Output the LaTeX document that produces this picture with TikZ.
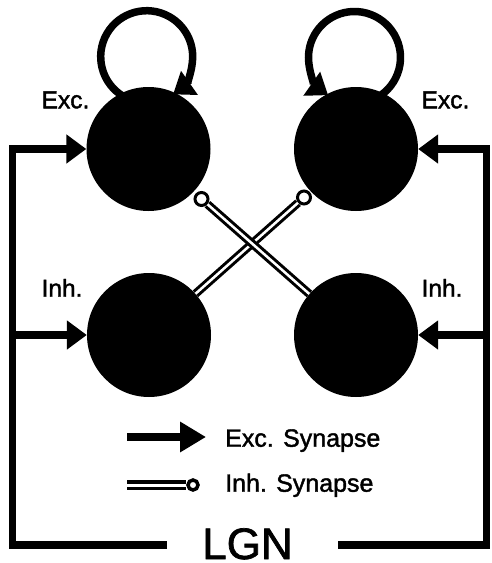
\documentclass[tikz,border=0pt]{standalone}
\usepackage{fontspec}
\setmainfont{Liberation Sans}
\newfontfamily\heavy{Liberation Sans}[FakeBold=1.6]
\usetikzlibrary{arrows.meta}
\begin{document}
\begin{tikzpicture}[x=1pt,y=-1pt,
  cell/.style={circle,fill=black,inner sep=0pt,minimum size=124pt},
  wire/.style={line width=7.5pt,line join=miter,line cap=butt},
  exc/.style={-{Triangle[length=20pt,width=28pt]}},
  inh/.style={line width=3pt,double=white,double distance=2.5pt},
  term/.style={circle,draw=black,fill=white,line width=3pt,inner sep=0pt,minimum size=13pt},
  lab/.style={font=\heavy\fontsize{24.5}{28}\selectfont,inner sep=0pt,anchor=base},
  leg/.style={font=\heavy\fontsize{25}{30}\selectfont,inner sep=0pt,anchor=base west}]
\useasboundingbox (0,0) rectangle (491,563);
% cells
\node[cell] (TL) at (148.5,149) {};
\node[cell] (TR) at (356,149) {};
\node[cell] (BL) at (149,335) {};
\node[cell] (BR) at (356,335) {};
% self loops
\coordinate (cTL) at (146.7,56.7);
\coordinate (cTR) at (354.5,57.5);
\draw[wire,exc] ([shift={(120:46)}]cTL) arc[start angle=120,end angle=415,radius=46];
\draw[wire,exc] ([shift={(60:46)}]cTR) arc[start angle=60,end angle=-235,radius=46];
% inhibitory cross connections
\node[term] (tTL) at (201.5,199) {};
\node[term] (tTR) at (304,197.5) {};
\draw[inh] (BL) -- (tTR);
\draw[inh] (BR) -- (tTL);
% LGN frame
\node[font=\heavy\fontsize{44}{50}\selectfont,anchor=base,inner sep=0pt] (LGN) at (247.5,559) {LGN};
\coordinate (lgnL) at (167,545);
\coordinate (cornerL) at (12.5,545);
\coordinate (cornerLT) at (12.5,149);
\coordinate (jL) at (12.5,335);
\coordinate (lgnR) at (338,545);
\coordinate (cornerR) at (486.5,545);
\coordinate (cornerRT) at (486.5,149);
\coordinate (jR) at (486.5,335);
\draw[wire,exc] (lgnL) -- (cornerL) -- (cornerLT) -- (TL.west);
\draw[wire,exc] (jL) -- (BL.west);
\draw[wire,exc] (lgnR) -- (cornerR) -- (cornerRT) -- (TR.east);
\draw[wire,exc] (jR) -- (BR.east);
% labels
\node[lab] (excL) at (65.5,108.3) {Exc.};
\node[lab] (excR) at (445.5,108.3) {Exc.};
\node[lab] (inhL) at (62,296.7) {Inh.};
\node[lab] (inhR) at (442,296.7) {Inh.};
% legend
\coordinate (la1) at (127,437);
\coordinate (la2) at (206,437);
\draw[line width=8pt,-{Triangle[length=26pt,width=29pt]}] (la1) -- (la2);
\node[leg] (exct) at (225,446.7) {Exc. Synapse};
\node[term,line width=3.5pt,minimum size=10pt] (lt) at (193,485) {};
\coordinate (li1) at (127,485);
\draw[inh,line width=3.5pt,double distance=3pt] (li1) -- (lt);
\node[leg] (inht) at (225,491.7) {Inh. Synapse};
\end{tikzpicture}
\end{document}
